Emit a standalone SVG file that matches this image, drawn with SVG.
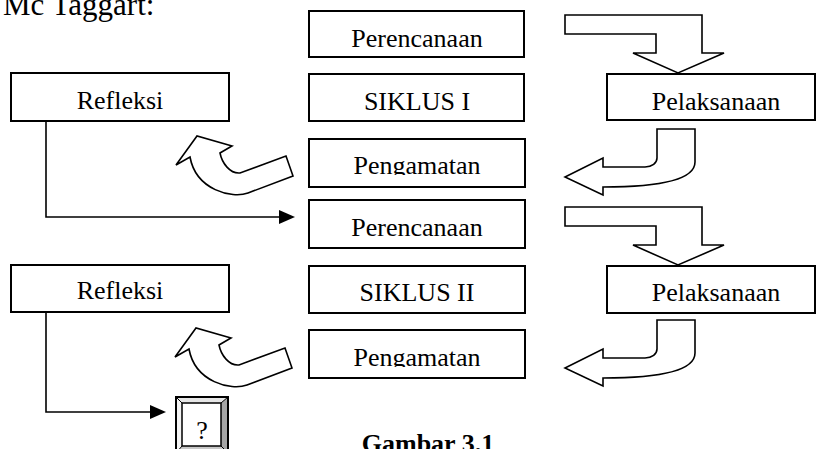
<svg xmlns="http://www.w3.org/2000/svg" width="817" height="449" viewBox="0 0 817 449">
<defs>
<style>
.box{fill:#fff;stroke:#000;stroke-width:2}
.t{font-family:"Liberation Serif","Times New Roman",serif;font-size:26px;fill:#000;text-anchor:middle}
.arr{fill:#fff;stroke:#000;stroke-width:1.6;stroke-linejoin:miter}
.ln{fill:none;stroke:#000;stroke-width:1.6}
</style>
<clipPath id="c1"><rect x="309" y="139" width="216" height="36"/></clipPath>
<clipPath id="c2"><rect x="309" y="330" width="216" height="37"/></clipPath>
<path id="bent" d="M565,15 H702 V53 H724 L678,73 L633,53 H656 V34 H565 Z"/>
<path id="curR" d="M657,129 H695 V162 C695,178 665,187 603,187 V195 L565,177 L603,158 V167 H645 C652,167 657,163 657,158 Z"/>
<path id="curL" d="M176,165 L197,136 L232,146 L220,153 C222,163 230,174 240,173 L286,156 L293,176 L248,193 C232,199 196,190 190,157 Z"/>
</defs>
<rect width="817" height="449" fill="#fff"/>
<text x="3" y="15" font-family="Liberation Serif, Times New Roman, serif" font-size="31" fill="#000">Mc Taggart:</text>

<g id="perencanaan1"><rect class="box" x="309" y="11" width="215" height="46"/><text class="t" x="417" y="47">Perencanaan</text></g>
<g id="refleksi1"><rect class="box" x="11" y="73" width="218" height="48"/><text class="t" x="120" y="109">Refleksi</text></g>
<g id="siklus1"><rect class="box" x="309" y="74" width="215" height="47"/><text class="t" x="417" y="110">SIKLUS I</text></g>
<g id="pelaksanaan1"><rect class="box" x="607" y="74" width="208" height="46"/><text class="t" x="716" y="110">Pelaksanaan</text></g>
<g id="pengamatan1"><rect class="box" x="309" y="139" width="216" height="48"/><text class="t" x="417" y="174" clip-path="url(#c1)">Pengamatan</text></g>
<g id="perencanaan2"><rect class="box" x="309" y="200" width="216" height="48"/><text class="t" x="417" y="236">Perencanaan</text></g>
<g id="refleksi2"><rect class="box" x="11" y="265" width="218" height="47"/><text class="t" x="120" y="299">Refleksi</text></g>
<g id="siklus2"><rect class="box" x="309" y="266" width="216" height="47"/><text class="t" x="417" y="301">SIKLUS II</text></g>
<g id="pelaksanaan2"><rect class="box" x="607" y="266" width="208" height="47"/><text class="t" x="716" y="301">Pelaksanaan</text></g>
<g id="pengamatan2"><rect class="box" x="309" y="330" width="216" height="48"/><text class="t" x="417" y="366" clip-path="url(#c2)">Pengamatan</text></g>

<g id="question">
<rect x="176" y="397" width="52" height="56" fill="#e6e6e6" stroke="#000" stroke-width="2"/>
<polygon points="221,403 228,397 228,453 221,446" fill="#a6a6a6"/>
<polygon points="182,446 221,446 228,453 176,453" fill="#c8c8c8"/>
<polygon points="176,397 182,403 182,446 176,453" fill="#f4f4f4"/>
<line x1="176" y1="397" x2="182" y2="403" stroke="#000" stroke-width="1"/>
<line x1="228" y1="397" x2="221" y2="403" stroke="#000" stroke-width="1"/>
<line x1="176" y1="453" x2="182" y2="446" stroke="#000" stroke-width="1"/>
<line x1="228" y1="453" x2="221" y2="446" stroke="#000" stroke-width="1"/>
<rect x="182" y="403" width="39" height="43" fill="#fff" stroke="#000" stroke-width="1.5"/>
<rect x="176" y="397" width="52" height="56" fill="none" stroke="#000" stroke-width="2"/>
<text class="t" x="202" y="439">?</text>
</g>

<g id="connectors">
<use href="#bent" class="arr"/>
<use href="#bent" class="arr" transform="translate(0,192)"/>
<use href="#curR" class="arr"/>
<use href="#curR" class="arr" transform="translate(0,191)"/>
<use href="#curL" class="arr"/>
<use href="#curL" class="arr" transform="translate(-1,192)"/>
<path class="ln" d="M46,121 V217 H282"/>
<polygon points="279,210 295,217 279,224" fill="#000"/>
<path class="ln" d="M46,312 V412 H152"/>
<polygon points="150,405 166,412 150,419" fill="#000"/>
</g>

<text x="428" y="452" font-family="Liberation Serif, Times New Roman, serif" font-size="26" font-weight="bold" text-anchor="middle" fill="#000">Gambar 3.1</text>
</svg>
